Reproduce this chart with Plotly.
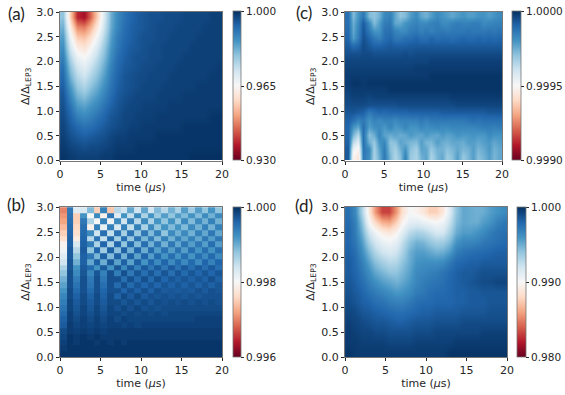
import numpy as np
import plotly.graph_objects as go

# Time and detuning grids
time_24 = [0.42, 1.25, 2.08, 2.92, 3.75, 4.58, 5.42, 6.25, 7.08, 7.92, 8.75, 9.58,
           10.42, 11.25, 12.08, 12.92, 13.75, 14.58, 15.42, 16.25, 17.08, 17.92, 18.75, 19.58]
time_30 = [0.33, 1.0, 1.67, 2.33, 3.0, 3.67, 4.33, 5.0, 5.67, 6.33, 7.0, 7.67, 8.33, 9.0, 9.67,
           10.33, 11.0, 11.67, 12.33, 13.0, 13.67, 14.33, 15.0, 15.67, 16.33, 17.0, 17.67, 18.33, 19.0, 19.67]
delta_15 = [2.9, 2.7, 2.5, 2.3, 2.1, 1.9, 1.7, 1.5, 1.3, 1.1, 0.9, 0.7, 0.5, 0.3, 0.1]
delta_20 = [2.925, 2.775, 2.625, 2.475, 2.325, 2.175, 2.025, 1.875, 1.725, 1.575,
            1.425, 1.275, 1.125, 0.975, 0.825, 0.675, 0.525, 0.375, 0.225, 0.075]
delta_26 = [2.94, 2.83, 2.71, 2.6, 2.48, 2.37, 2.25, 2.13, 2.02, 1.9, 1.79, 1.67, 1.56,
            1.44, 1.33, 1.21, 1.1, 0.98, 0.87, 0.75, 0.63, 0.52, 0.4, 0.29, 0.17, 0.06]

# Loss below 1.0, as percent of each colour bar's span, top row first
loss_a = [
    [30, 62, 88, 92, 80, 62, 42, 25, 18, 13, 10, 8, 7, 6, 6, 5, 5, 5, 4, 4, 4, 4, 3, 3],
    [26, 54, 74, 76, 68, 55, 39, 24, 17, 12, 9, 8, 7, 6, 5, 5, 5, 4, 4, 4, 4, 3, 3, 3],
    [22, 47, 63, 65, 59, 48, 35, 22, 15, 11, 9, 7, 6, 6, 5, 5, 4, 4, 4, 4, 3, 3, 3, 3],
    [19, 41, 54, 57, 51, 42, 31, 20, 14, 10, 8, 7, 6, 5, 5, 4, 4, 4, 4, 3, 3, 3, 3, 3],
    [16, 35, 47, 50, 45, 37, 28, 18, 12, 9, 7, 6, 6, 5, 5, 4, 4, 4, 3, 3, 3, 3, 3, 3],
    [13, 30, 41, 45, 40, 33, 25, 16, 11, 8, 7, 6, 5, 5, 4, 4, 4, 3, 3, 3, 3, 3, 3, 2],
    [11, 26, 36, 40, 35, 29, 22, 14, 10, 7, 6, 5, 5, 4, 4, 4, 3, 3, 3, 3, 3, 3, 2, 2],
    [9, 21, 31, 35, 30, 25, 19, 13, 9, 7, 6, 5, 4, 4, 4, 3, 3, 3, 3, 3, 2, 2, 2, 2],
    [7, 17, 26, 29, 25, 21, 16, 11, 8, 6, 5, 4, 4, 4, 3, 3, 3, 3, 2, 2, 2, 2, 2, 2],
    [6, 13, 21, 23, 20, 17, 13, 9, 7, 5, 4, 4, 3, 3, 3, 3, 2, 2, 2, 2, 2, 2, 2, 2],
    [5, 10, 16, 18, 16, 13, 10, 7, 6, 4, 4, 3, 3, 3, 2, 2, 2, 2, 2, 2, 2, 2, 1, 1],
    [4, 8, 11, 13, 12, 10, 8, 6, 5, 4, 3, 3, 2, 2, 2, 2, 2, 2, 1, 1, 1, 1, 1, 1],
    [3, 6, 8, 9, 8, 7, 6, 4, 3, 3, 2, 2, 2, 2, 1, 1, 1, 1, 1, 1, 1, 1, 1, 1],
    [2, 4, 5, 6, 5, 5, 4, 3, 2, 2, 2, 1, 1, 1, 1, 1, 1, 1, 1, 1, 1, 1, 1, 1],
    [1, 2, 3, 3, 3, 3, 2, 2, 1, 1, 1, 1, 1, 1, 1, 1, 1, 1, 1, 0, 0, 0, 0, 0],
]

loss_b = [
    [75, 14, 44, 42, 28, 62, 16, 64, 36, 40, 24, 40, 24, 40, 28, 36, 26, 34, 22, 32, 22, 30, 20, 30],
    [72, 13, 62, 20, 50, 18, 52, 14, 44, 20, 38, 18, 34, 20, 32, 22, 30, 22, 28, 20, 28, 18, 26, 18],
    [70, 12, 62, 14, 34, 50, 16, 48, 18, 40, 16, 36, 18, 34, 20, 30, 20, 30, 18, 28, 18, 26, 16, 26],
    [66, 11, 60, 12, 52, 16, 46, 16, 42, 16, 38, 16, 34, 18, 30, 20, 28, 20, 28, 18, 26, 16, 26, 16],
    [62, 10, 58, 11, 18, 40, 12, 38, 13, 33, 13, 31, 14, 28, 16, 30, 18, 26, 18, 26, 16, 24, 14, 24],
    [58, 9, 54, 10, 36, 13, 38, 11, 33, 12, 31, 13, 27, 15, 28, 16, 26, 16, 24, 16, 24, 14, 22, 14],
    [52, 9, 42, 9, 15, 34, 10, 34, 10, 30, 11, 28, 12, 26, 14, 26, 14, 24, 14, 22, 14, 22, 12, 22],
    [48, 8, 36, 8, 30, 10, 32, 9, 29, 9, 26, 10, 25, 11, 22, 13, 22, 13, 22, 12, 20, 12, 20, 12],
    [44, 8, 30, 9, 14, 27, 9, 28, 9, 26, 9, 23, 10, 22, 11, 20, 12, 20, 12, 20, 12, 18, 11, 18],
    [40, 7, 26, 9, 24, 9, 25, 8, 23, 9, 23, 9, 20, 10, 18, 10, 18, 11, 18, 11, 18, 10, 16, 10],
    [34, 7, 20, 8, 11, 20, 8, 20, 7, 18, 8, 16, 8, 14, 8, 14, 8, 13, 8, 12, 8, 12, 8, 12],
    [30, 6, 18, 7, 17, 7, 16, 6, 15, 6, 14, 7, 12, 7, 12, 7, 12, 7, 11, 7, 10, 7, 10, 7],
    [26, 6, 15, 6, 14, 6, 14, 6, 6, 12, 6, 11, 6, 11, 6, 10, 7, 9, 7, 9, 7, 9, 6, 9],
    [23, 6, 13, 6, 13, 6, 12, 6, 11, 6, 11, 7, 10, 7, 10, 7, 9, 7, 9, 7, 9, 7, 9, 7],
    [20, 5, 11, 6, 11, 6, 10, 6, 6, 10, 6, 9, 6, 9, 6, 8, 7, 8, 7, 8, 6, 8, 6, 7],
    [17, 5, 9, 5, 9, 5, 9, 5, 9, 5, 8, 5, 8, 6, 7, 6, 7, 6, 7, 6, 7, 6, 6, 6],
    [15, 4, 8, 5, 8, 5, 8, 5, 5, 7, 5, 7, 5, 7, 5, 6, 5, 6, 5, 6, 5, 6, 5, 6],
    [13, 4, 7, 4, 7, 4, 7, 4, 6, 4, 6, 4, 6, 5, 6, 5, 5, 5, 5, 5, 5, 5, 5, 5],
    [11, 3, 6, 4, 6, 4, 6, 4, 4, 5, 4, 5, 4, 5, 4, 5, 4, 4, 4, 4, 4, 4, 4, 4],
    [9, 3, 5, 3, 5, 3, 5, 3, 5, 3, 4, 4, 4, 4, 4, 4, 4, 4, 4, 4, 3, 3, 3, 3],
    [8, 2, 4, 3, 4, 3, 4, 3, 3, 4, 3, 4, 3, 3, 3, 3, 3, 3, 3, 3, 3, 3, 3, 3],
    [5, 2, 3, 2, 3, 2, 3, 2, 2, 2, 2, 2, 2, 2, 2, 2, 2, 2, 2, 2, 2, 2, 2, 2],
    [4, 1, 2, 1, 2, 1, 2, 2, 2, 2, 2, 2, 2, 2, 2, 2, 2, 2, 2, 2, 2, 2, 2, 2],
    [3, 1, 2, 1, 1, 2, 1, 2, 1, 2, 1, 1, 1, 1, 1, 1, 1, 1, 1, 1, 1, 1, 1, 1],
    [2, 1, 1, 1, 1, 1, 1, 1, 1, 1, 1, 1, 1, 1, 1, 1, 1, 1, 1, 1, 1, 1, 1, 1],
    [1, 1, 1, 1, 1, 1, 1, 1, 1, 1, 1, 1, 1, 1, 1, 1, 1, 1, 1, 1, 1, 1, 1, 1],
]

loss_c = [
    [12, 28, 20, 14, 28, 30, 26, 18, 16, 24, 30, 28, 22, 18, 24, 26, 22, 18, 20, 22, 24, 22, 20, 22, 22, 20, 20, 22, 20, 18],
    [12, 25, 18, 8, 18, 28, 22, 15, 14, 24, 24, 20, 18, 16, 18, 18, 16, 15, 18, 18, 16, 15, 16, 16, 15, 15, 18, 17, 16, 16],
    [11, 24, 16, 7, 14, 20, 20, 13, 12, 16, 18, 18, 15, 14, 16, 14, 16, 14, 14, 15, 14, 14, 14, 13, 14, 14, 14, 13, 14, 13],
    [10, 22, 15, 6, 10, 14, 16, 12, 10, 14, 14, 12, 12, 10, 12, 12, 10, 12, 11, 11, 12, 11, 10, 11, 11, 10, 11, 10, 11, 10],
    [8, 12, 10, 5, 8, 10, 10, 9, 8, 9, 9, 9, 8, 8, 8, 8, 8, 8, 8, 8, 8, 8, 8, 8, 8, 8, 8, 8, 8, 8],
    [6, 6, 6, 5, 5, 6, 6, 6, 6, 6, 6, 5, 6, 5, 5, 5, 5, 5, 5, 5, 5, 5, 5, 5, 5, 5, 5, 5, 5, 5],
    [4, 4, 4, 4, 4, 4, 4, 4, 4, 4, 4, 4, 4, 4, 4, 4, 3, 3, 3, 3, 3, 3, 3, 3, 3, 3, 3, 3, 3, 3],
    [3, 3, 3, 3, 3, 3, 3, 3, 3, 3, 3, 3, 3, 2, 2, 2, 2, 2, 2, 2, 2, 2, 2, 2, 2, 2, 2, 2, 2, 2],
    [2, 2, 2, 2, 2, 2, 2, 2, 2, 2, 2, 2, 2, 2, 2, 2, 1, 1, 1, 1, 1, 1, 1, 1, 1, 1, 1, 1, 1, 1],
    [2, 1, 1, 2, 1, 1, 1, 1, 1, 1, 1, 1, 1, 1, 1, 1, 1, 1, 1, 1, 1, 1, 1, 1, 1, 1, 1, 1, 1, 1],
    [3, 2, 2, 2, 2, 2, 2, 2, 1, 1, 1, 1, 1, 1, 1, 1, 1, 1, 1, 1, 1, 1, 1, 1, 1, 1, 1, 1, 1, 1],
    [4, 3, 3, 3, 4, 3, 3, 3, 3, 3, 3, 3, 3, 3, 3, 3, 3, 3, 3, 3, 2, 2, 2, 2, 2, 2, 2, 2, 2, 2],
    [5, 5, 5, 5, 6, 6, 6, 6, 6, 6, 5, 5, 5, 5, 5, 5, 5, 5, 5, 5, 5, 4, 4, 4, 4, 4, 4, 4, 4, 4],
    [7, 7, 8, 9, 14, 12, 10, 11, 10, 10, 10, 10, 9, 9, 9, 9, 9, 9, 8, 8, 8, 8, 8, 8, 8, 8, 8, 7, 7, 7],
    [9, 12, 16, 14, 20, 16, 18, 16, 16, 18, 16, 16, 16, 16, 14, 16, 14, 14, 14, 14, 14, 14, 14, 13, 12, 13, 12, 12, 12, 12],
    [10, 20, 24, 12, 22, 19, 18, 21, 17, 21, 20, 17, 20, 20, 17, 19, 18, 17, 18, 18, 17, 17, 17, 17, 17, 16, 15, 15, 16, 15],
    [10, 27, 36, 12, 29, 25, 17, 23, 25, 23, 25, 24, 21, 23, 24, 21, 23, 24, 21, 23, 22, 20, 21, 21, 20, 21, 21, 18, 20, 20],
    [9, 36, 44, 12, 26, 31, 20, 17, 30, 29, 23, 25, 27, 28, 22, 27, 27, 22, 25, 26, 24, 24, 25, 22, 22, 24, 22, 21, 24, 22],
    [8, 46, 52, 13, 18, 33, 23, 15, 29, 33, 26, 20, 29, 33, 23, 24, 31, 26, 26, 29, 27, 24, 27, 26, 22, 27, 24, 21, 26, 24],
    [8, 52, 56, 14, 19, 34, 25, 14, 27, 35, 29, 16, 31, 34, 26, 23, 34, 27, 24, 32, 29, 22, 31, 27, 22, 29, 26, 22, 27, 24],
]

loss_d = [
    [12, 18, 35, 56, 72, 84, 84, 72, 58, 50, 52, 56, 62, 62, 55, 42, 30, 24, 25, 26, 25, 22, 20, 18],
    [11, 16, 30, 50, 60, 68, 70, 62, 52, 45, 44, 46, 48, 50, 47, 38, 28, 24, 25, 25, 22, 20, 16, 14],
    [10, 15, 26, 41, 48, 54, 56, 52, 44, 37, 34, 35, 38, 42, 41, 33, 25, 22, 22, 20, 18, 15, 13, 12],
    [10, 14, 22, 34, 41, 46, 48, 45, 38, 30, 26, 27, 30, 33, 32, 27, 20, 17, 17, 16, 14, 13, 12, 11],
    [9, 12, 19, 28, 35, 40, 42, 40, 34, 26, 22, 22, 24, 26, 25, 21, 15, 13, 12, 11, 11, 10, 9, 9],
    [8, 11, 16, 23, 29, 33, 36, 35, 30, 25, 20, 19, 19, 19, 18, 14, 11, 10, 9, 9, 8, 8, 8, 8],
    [8, 10, 14, 19, 24, 27, 30, 30, 27, 23, 18, 17, 16, 15, 13, 11, 9, 8, 8, 7, 6, 6, 6, 6],
    [7, 9, 12, 16, 19, 22, 24, 26, 24, 21, 17, 15, 14, 13, 12, 10, 9, 8, 7, 6, 5, 5, 4, 4],
    [6, 8, 10, 13, 15, 17, 19, 21, 20, 18, 15, 14, 12, 11, 11, 10, 9, 9, 8, 8, 7, 7, 7, 7],
    [5, 7, 9, 10, 12, 13, 15, 16, 16, 14, 12, 11, 11, 10, 10, 10, 9, 9, 8, 8, 8, 7, 7, 7],
    [4, 5, 7, 8, 9, 10, 11, 12, 12, 11, 10, 9, 9, 8, 8, 8, 8, 7, 7, 7, 7, 6, 6, 6],
    [3, 4, 5, 6, 7, 7, 8, 9, 9, 8, 7, 7, 7, 6, 6, 6, 6, 5, 5, 5, 5, 5, 5, 5],
    [2, 3, 4, 4, 5, 5, 6, 6, 6, 6, 5, 5, 5, 4, 4, 4, 4, 4, 4, 4, 3, 3, 3, 3],
    [2, 2, 3, 3, 3, 3, 4, 4, 4, 4, 3, 3, 3, 3, 3, 3, 2, 2, 2, 2, 2, 2, 2, 2],
    [1, 2, 2, 2, 2, 2, 2, 2, 2, 2, 2, 2, 2, 2, 2, 1, 1, 1, 1, 1, 1, 1, 1, 1],
]

x_ticks = [0, 5, 10, 15, 20]
y_ticks = [0.0, 0.5, 1.0, 1.5, 2.0, 2.5, 3.0]

# matplotlib RdBu
rdbu = ["#67001f", "#b2182b", "#d6604d", "#f4a582", "#fddbc7", "#f7f7f7",
        "#d1e5f0", "#92c5de", "#4393c3", "#2166ac", "#053061"]
colorscale = [[i / 10, c] for i, c in enumerate(rdbu)]

W, H = 565, 395
FONT = "DejaVu Sans"
TEXT = "#262626"
TICK_SIZE = 11
BAR_SIZE = 10.5

# name, data, x, y, smooth, bottom of colour bar, bar labels, plot box, bar box, label position
panels = [
    ("(a)", loss_a, time_24, delta_15, "best", 0.930, ["0.930", "0.965", "1.000"], (60, 222, 12, 160.5), (233, 241), (16, 14)),
    ("(b)", loss_b, time_24, delta_26, False, 0.996, ["0.996", "0.998", "1.000"], (60, 222, 207, 357), (233, 241), (16, 204)),
    ("(c)", loss_c, time_30, delta_20, "best", 0.9990, ["0.9990", "0.9995", "1.0000"], (345, 502, 12, 160.5), (512, 521), (304, 13)),
    ("(d)", loss_d, time_24, delta_15, "best", 0.980, ["0.980", "0.990", "1.000"], (345, 507, 207, 357), (517, 526), (304, 205)),
]

fig = go.Figure()
layout = {}
notes = []

for i, (name, loss, xs, ys, smooth, low, bar_text, box, bar, label) in enumerate(panels):
    suffix = "" if i == 0 else str(i + 1)
    left, right, top, bottom = box
    z = 1 - np.array(loss) / 100 * (1 - low)
    fig.add_trace(go.Heatmap(
        x=xs, y=ys, z=z, zmin=low, zmax=1.0, zsmooth=smooth,
        colorscale=colorscale,
        xaxis="x" + suffix, yaxis="y" + suffix,
        colorbar=dict(
            x=bar[0] / W, xanchor="left", xpad=0, ypad=0,
            y=1 - bottom / H, yanchor="bottom", len=(bottom - top) / H, lenmode="fraction",
            thickness=bar[1] - bar[0], thicknessmode="pixels",
            tickmode="array", tickvals=[low, (low + 1) / 2, 1.0], ticktext=bar_text,
            ticks="outside", ticklen=3, tickwidth=1, tickcolor=TEXT,
            outlinecolor="#777777", outlinewidth=0.8,
            tickfont=dict(family=FONT, size=BAR_SIZE, color=TEXT),
        ),
    ))
    layout["xaxis" + suffix] = dict(
        domain=[left / W, right / W], anchor="y" + suffix, range=[0, 20],
        tickvals=x_ticks, ticks="outside", ticklen=3, tickwidth=1, tickcolor=TEXT,
        showgrid=False, zeroline=False, showline=True, mirror=True, linecolor="#777777", linewidth=1,
        tickfont=dict(family=FONT, size=TICK_SIZE, color=TEXT),
        title=dict(text="time (<i>μ</i>s)", standoff=1, font=dict(family=FONT, size=TICK_SIZE, color=TEXT)),
    )
    layout["yaxis" + suffix] = dict(
        domain=[1 - bottom / H, 1 - top / H], anchor="x" + suffix, range=[0, 3],
        tickvals=y_ticks, tickformat=".1f", ticks="outside", ticklen=3, tickwidth=1, tickcolor=TEXT,
        showgrid=False, zeroline=False, showline=True, mirror=True, linecolor="#777777", linewidth=1,
        tickfont=dict(family=FONT, size=TICK_SIZE, color=TEXT),
        title=dict(text="Δ/Δ<sub>LEP3</sub>", standoff=4, font=dict(family=FONT, size=TICK_SIZE, color=TEXT)),
    )
    notes.append(dict(
        text=name, x=label[0] / W, y=1 - label[1] / H, xref="paper", yref="paper",
        xanchor="center", yanchor="middle", showarrow=False,
        font=dict(family="Lato", size=17, color="#222222"),
    ))

fig.update_layout(
    width=W, height=H, margin=dict(l=0, r=0, t=0, b=0, autoexpand=False),
    paper_bgcolor="white", plot_bgcolor="white", showlegend=False,
    annotations=notes, **layout,
)

# the page's default body margin would push the figure 8px in
fig.write_html("out.html", config={"displayModeBar": False},
               post_script="document.body.style.margin = '0';")
